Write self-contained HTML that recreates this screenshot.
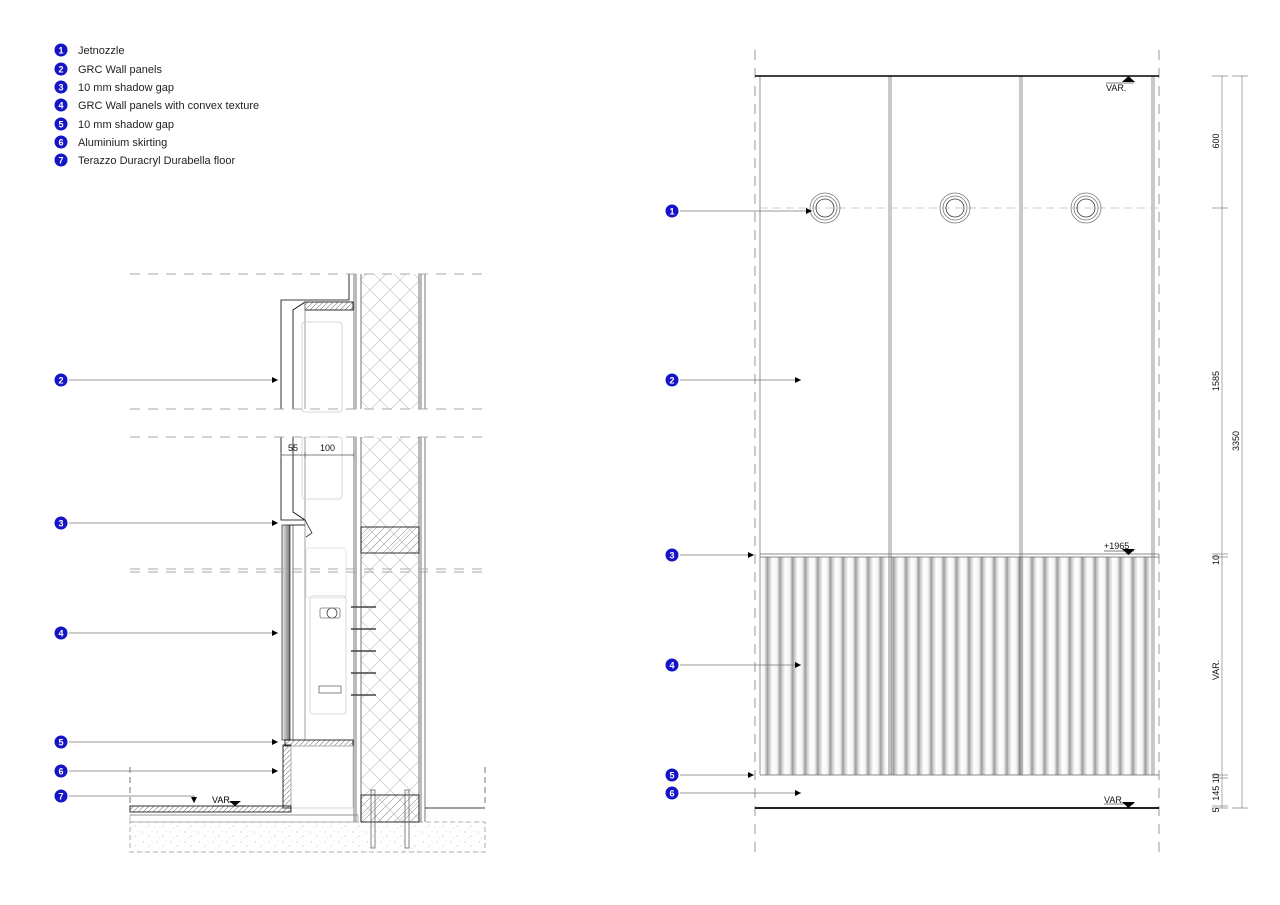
<!DOCTYPE html>
<html><head><meta charset="utf-8"><style>
html,body{margin:0;padding:0;background:#fff}
svg{display:block;font-family:"Liberation Sans",sans-serif}
</style></head><body>
<svg width="1280" height="905" viewBox="0 0 1280 905" xmlns="http://www.w3.org/2000/svg">
<defs>
<pattern id="xh" width="20" height="20" patternUnits="userSpaceOnUse">
<path d="M0 0L20 20M20 0L0 20" stroke="#bbb" stroke-width="0.6"/>
</pattern>
<pattern id="dh" width="5" height="5" patternUnits="userSpaceOnUse">
<path d="M0 5L5 0" stroke="#777" stroke-width="0.6"/>
</pattern>
<pattern id="bh" width="8" height="8" patternUnits="userSpaceOnUse">
<path d="M0 8L8 0" stroke="#999" stroke-width="0.6"/>
</pattern>
<linearGradient id="cg" x1="0" x2="1" y1="0" y2="0">
<stop offset="0" stop-color="#fff"/><stop offset="0.35" stop-color="#f4f4f4"/><stop offset="0.6" stop-color="#9a9a9a"/><stop offset="0.72" stop-color="#c8c8c8"/><stop offset="1" stop-color="#fff"/>
</linearGradient>
<pattern id="corr" width="12.6" height="10" patternUnits="userSpaceOnUse" x="760">
<rect width="12.6" height="10" fill="url(#cg)"/>
</pattern>
<linearGradient id="pg" x1="0" x2="1"><stop offset="0" stop-color="#eee"/><stop offset="1" stop-color="#777"/></linearGradient>
<pattern id="sp" width="14" height="10" patternUnits="userSpaceOnUse">
<circle cx="3" cy="2" r="0.5" fill="#999"/><circle cx="9" cy="6" r="0.5" fill="#999"/><circle cx="12" cy="1" r="0.4" fill="#aaa"/><circle cx="6" cy="8" r="0.4" fill="#aaa"/>
</pattern>
<marker id="ar" viewBox="0 0 6 6" refX="6" refY="3" markerWidth="6" markerHeight="6" orient="auto" markerUnits="userSpaceOnUse"><path d="M0 0L6 3L0 6Z" fill="#000"/></marker>
</defs>

<!-- legend -->
<g font-size="11" fill="#222">
<g fill="#1515c8"><circle cx="61" cy="50" r="6.5"/><circle cx="61" cy="69" r="6.5"/><circle cx="61" cy="87" r="6.5"/><circle cx="61" cy="105" r="6.5"/><circle cx="61" cy="124" r="6.5"/><circle cx="61" cy="142" r="6.5"/><circle cx="61" cy="160" r="6.5"/></g>
<g fill="#fff" font-size="9" font-weight="bold" text-anchor="middle"><text x="61" y="53.5">1</text><text x="61" y="72.5">2</text><text x="61" y="90.5">3</text><text x="61" y="108.5">4</text><text x="61" y="127.5">5</text><text x="61" y="145.5">6</text><text x="61" y="163.5">7</text></g>
<text x="78" y="54">Jetnozzle</text><text x="78" y="73">GRC Wall panels</text><text x="78" y="91">10 mm shadow gap</text><text x="78" y="109">GRC Wall panels with convex texture</text><text x="78" y="128">10 mm shadow gap</text><text x="78" y="146">Aluminium skirting</text><text x="78" y="164">Terazzo Duracryl Durabella floor</text>
</g>

<!-- SECTION -->
<g stroke="#555" stroke-width="0.8" fill="none">
<rect x="361" y="274" width="58" height="135" fill="url(#xh)" stroke="none"/>
<rect x="361" y="437" width="58" height="385" fill="url(#xh)" stroke="none"/>
<line x1="354" y1="274" x2="354" y2="409"/><line x1="356" y1="274" x2="356" y2="409"/>
<line x1="361" y1="274" x2="361" y2="409"/><line x1="419" y1="274" x2="419" y2="409"/>
<line x1="421" y1="274" x2="421" y2="409"/><line x1="425" y1="274" x2="425" y2="409"/>
<line x1="354" y1="437" x2="354" y2="822"/><line x1="356" y1="437" x2="356" y2="822"/>
<line x1="361" y1="437" x2="361" y2="822"/><line x1="419" y1="437" x2="419" y2="822"/>
<line x1="421" y1="437" x2="421" y2="822"/><line x1="425" y1="437" x2="425" y2="822"/>
<path d="M349 274V300H281V409" stroke="#000"/>
<rect x="305" y="302" width="48" height="8" fill="url(#dh)" stroke="#000"/>
<path d="M305 302L293 310V409" stroke="#000"/>
<line x1="305" y1="300" x2="305" y2="409" stroke="#888"/>
<rect x="302" y="322" width="40" height="90" rx="3" stroke="#ccc"/>
<path d="M281 437V520H305L293 512V437" stroke="#000"/>
<line x1="305" y1="437" x2="305" y2="740" stroke="#888"/>
<rect x="302" y="437" width="40" height="62" rx="3" stroke="#ccc"/>
<path d="M305 520L312 533L306 537" stroke="#333"/>
<rect x="361" y="527" width="58" height="26" fill="url(#bh)" stroke="#000"/>
<rect x="282" y="525" width="8" height="215" fill="url(#pg)" stroke="#000" stroke-width="0.6"/>
<line x1="293" y1="525" x2="293" y2="740"/>
<path d="M290 525H305" stroke="#000"/>
<rect x="310" y="596" width="36" height="118" rx="3" stroke="#ccc"/>
<rect x="306" y="548" width="40" height="50" rx="3" stroke="#ddd"/>
<circle cx="332" cy="613" r="5" stroke="#444"/><rect x="320" y="608" width="20" height="10" rx="2" stroke="#777"/>
<rect x="319" y="686" width="22" height="7" stroke="#666"/>
<g stroke="#444" stroke-width="1.6"><line x1="351" y1="607" x2="376" y2="607"/><line x1="351" y1="629" x2="376" y2="629"/><line x1="351" y1="651" x2="376" y2="651"/><line x1="351" y1="673" x2="376" y2="673"/><line x1="351" y1="695" x2="376" y2="695"/></g>
<rect x="285" y="740" width="68" height="6" fill="url(#dh)" stroke="#000"/>
<rect x="283" y="745" width="8" height="63" fill="url(#dh)" stroke="#000"/>
<rect x="291" y="746" width="62" height="62" stroke="#ccc"/>
<rect x="130" y="806" width="161" height="6" fill="url(#dh)" stroke="#000"/>
<line x1="130" y1="815" x2="358" y2="815" stroke="#000"/>
<rect x="130" y="815" width="228" height="7" stroke="#aaa"/>
<rect x="130" y="822" width="355" height="30" fill="url(#sp)" stroke="#999" stroke-dasharray="5 3"/>
<rect x="361" y="795" width="58" height="27" fill="url(#bh)" stroke="#000"/>
<line x1="425" y1="808" x2="485" y2="808" stroke="#000"/>
<g stroke="#666"><rect x="371" y="790" width="4" height="58"/><rect x="405" y="790" width="4" height="58"/></g>
<line x1="130" y1="767" x2="130" y2="805" stroke-dasharray="6 4"/><line x1="485" y1="767" x2="485" y2="805" stroke-dasharray="6 4"/>
</g>
<g stroke="#aaa" stroke-width="1" stroke-dasharray="10 8">
<line x1="130" y1="274" x2="485" y2="274"/><line x1="130" y1="409" x2="485" y2="409"/><line x1="130" y1="437" x2="485" y2="437"/><line x1="130" y1="569" x2="485" y2="569"/><line x1="130" y1="572" x2="485" y2="572"/>
</g>
<g font-size="9" fill="#111"><text x="288" y="451">55</text><text x="320" y="451">100</text></g>
<path d="M281 455H354M281 452V458M305 452V458M354 452V458" stroke="#555" stroke-width="0.7" fill="none"/>
<path d="M212 806H246" stroke="#000" stroke-width="0.6"/><path d="M229 801H241L235 806Z" fill="#000"/>
<text x="212" y="803" font-size="9">VAR.</text>

<!-- ELEVATION -->
<g stroke="#999" stroke-width="1" stroke-dasharray="10 8"><line x1="755" y1="50" x2="755" y2="852"/><line x1="1159" y1="50" x2="1159" y2="852"/></g>
<rect x="760" y="557" width="393" height="218" fill="url(#corr)"/>
<g stroke="#666" stroke-width="0.7" fill="none">
<line x1="760" y1="76" x2="760" y2="775"/><line x1="1152" y1="76" x2="1152" y2="775"/><line x1="1154" y1="76" x2="1154" y2="775"/>
<line x1="889" y1="76" x2="889" y2="775"/><line x1="891" y1="76" x2="891" y2="775"/>
<line x1="1020" y1="76" x2="1020" y2="775"/><line x1="1022" y1="76" x2="1022" y2="775"/>
<line x1="760" y1="554" x2="1159" y2="554"/><line x1="760" y1="557" x2="1159" y2="557"/><line x1="760" y1="775" x2="1159" y2="775"/>
</g>
<line x1="755" y1="76" x2="1159" y2="76" stroke="#000" stroke-width="1.5"/>
<line x1="755" y1="808" x2="1159" y2="808" stroke="#000" stroke-width="1.8"/>
<line x1="760" y1="208" x2="1159" y2="208" stroke="#ccc" stroke-dasharray="8 5"/>
<g stroke="#777" stroke-width="0.8" fill="none">
<circle cx="825" cy="208" r="15"/><circle cx="825" cy="208" r="12"/><circle cx="825" cy="208" r="9" stroke="#333"/>
<circle cx="955" cy="208" r="15"/><circle cx="955" cy="208" r="12"/><circle cx="955" cy="208" r="9" stroke="#333"/>
<circle cx="1086" cy="208" r="15"/><circle cx="1086" cy="208" r="12"/><circle cx="1086" cy="208" r="9" stroke="#333"/>
</g>
<g font-size="9" fill="#111">
<path d="M1122 82H1135L1128.5 76Z" fill="#000"/><text x="1106" y="91">VAR.</text><line x1="1106" y1="83" x2="1134" y2="83" stroke="#000" stroke-width="0.5"/>
<text x="1104" y="549">+1965</text><line x1="1104" y1="551" x2="1134" y2="551" stroke="#000" stroke-width="0.5"/><path d="M1122 549H1135L1128.5 555Z" fill="#000"/>
<text x="1104" y="803">VAR.</text><line x1="1104" y1="804" x2="1134" y2="804" stroke="#000" stroke-width="0.5"/><path d="M1122 802H1135L1128.5 808Z" fill="#000"/>
</g>
<g stroke="#888" stroke-width="0.7" fill="none">
<line x1="1222" y1="76" x2="1222" y2="808"/><line x1="1242" y1="76" x2="1242" y2="808"/>
<path d="M1212 76H1228M1212 208H1228M1212 554H1228M1212 557H1228M1212 775H1228M1212 778H1228M1212 806H1228M1212 808H1228M1232 76H1248M1232 808H1248"/>
</g>
<g font-size="9" fill="#111" text-anchor="middle">
<text transform="translate(1219 141) rotate(-90)">600</text>
<text transform="translate(1219 381) rotate(-90)">1585</text>
<text transform="translate(1219 560) rotate(-90)">10</text>
<text transform="translate(1219 670) rotate(-90)">VAR.</text>
<text transform="translate(1219 787) rotate(-90)">145 10</text>
<text transform="translate(1219 810) rotate(-90)">5</text>
<text transform="translate(1239 441) rotate(-90)">3350</text>
</g>

<!-- markers (on top) -->
<g fill="#1515c8"><circle cx="61" cy="380" r="6.5"/><circle cx="61" cy="523" r="6.5"/><circle cx="61" cy="633" r="6.5"/><circle cx="61" cy="742" r="6.5"/><circle cx="61" cy="771" r="6.5"/><circle cx="61" cy="796" r="6.5"/>
<circle cx="672" cy="211" r="6.5"/><circle cx="672" cy="380" r="6.5"/><circle cx="672" cy="555" r="6.5"/><circle cx="672" cy="665" r="6.5"/><circle cx="672" cy="775" r="6.5"/><circle cx="672" cy="793" r="6.5"/></g>
<g fill="#fff" font-size="9" font-weight="bold" text-anchor="middle"><text x="61" y="383.5">2</text><text x="61" y="526.5">3</text><text x="61" y="636.5">4</text><text x="61" y="745.5">5</text><text x="61" y="774.5">6</text><text x="61" y="799.5">7</text>
<text x="672" y="214.5">1</text><text x="672" y="383.5">2</text><text x="672" y="558.5">3</text><text x="672" y="668.5">4</text><text x="672" y="778.5">5</text><text x="672" y="796.5">6</text></g>
<g stroke="#777" stroke-width="0.8" fill="none" marker-end="url(#ar)">
<line x1="69" y1="380" x2="278" y2="380"/><line x1="69" y1="523" x2="278" y2="523"/><line x1="69" y1="633" x2="278" y2="633"/><line x1="69" y1="742" x2="278" y2="742"/><line x1="69" y1="771" x2="278" y2="771"/><path d="M69 796H194V803"/>
<line x1="680" y1="211" x2="812" y2="211"/><line x1="680" y1="380" x2="801" y2="380"/><line x1="680" y1="555" x2="754" y2="555"/><line x1="680" y1="665" x2="801" y2="665"/><line x1="680" y1="775" x2="754" y2="775"/><line x1="680" y1="793" x2="801" y2="793"/>
</g>
</svg>
</body></html>
